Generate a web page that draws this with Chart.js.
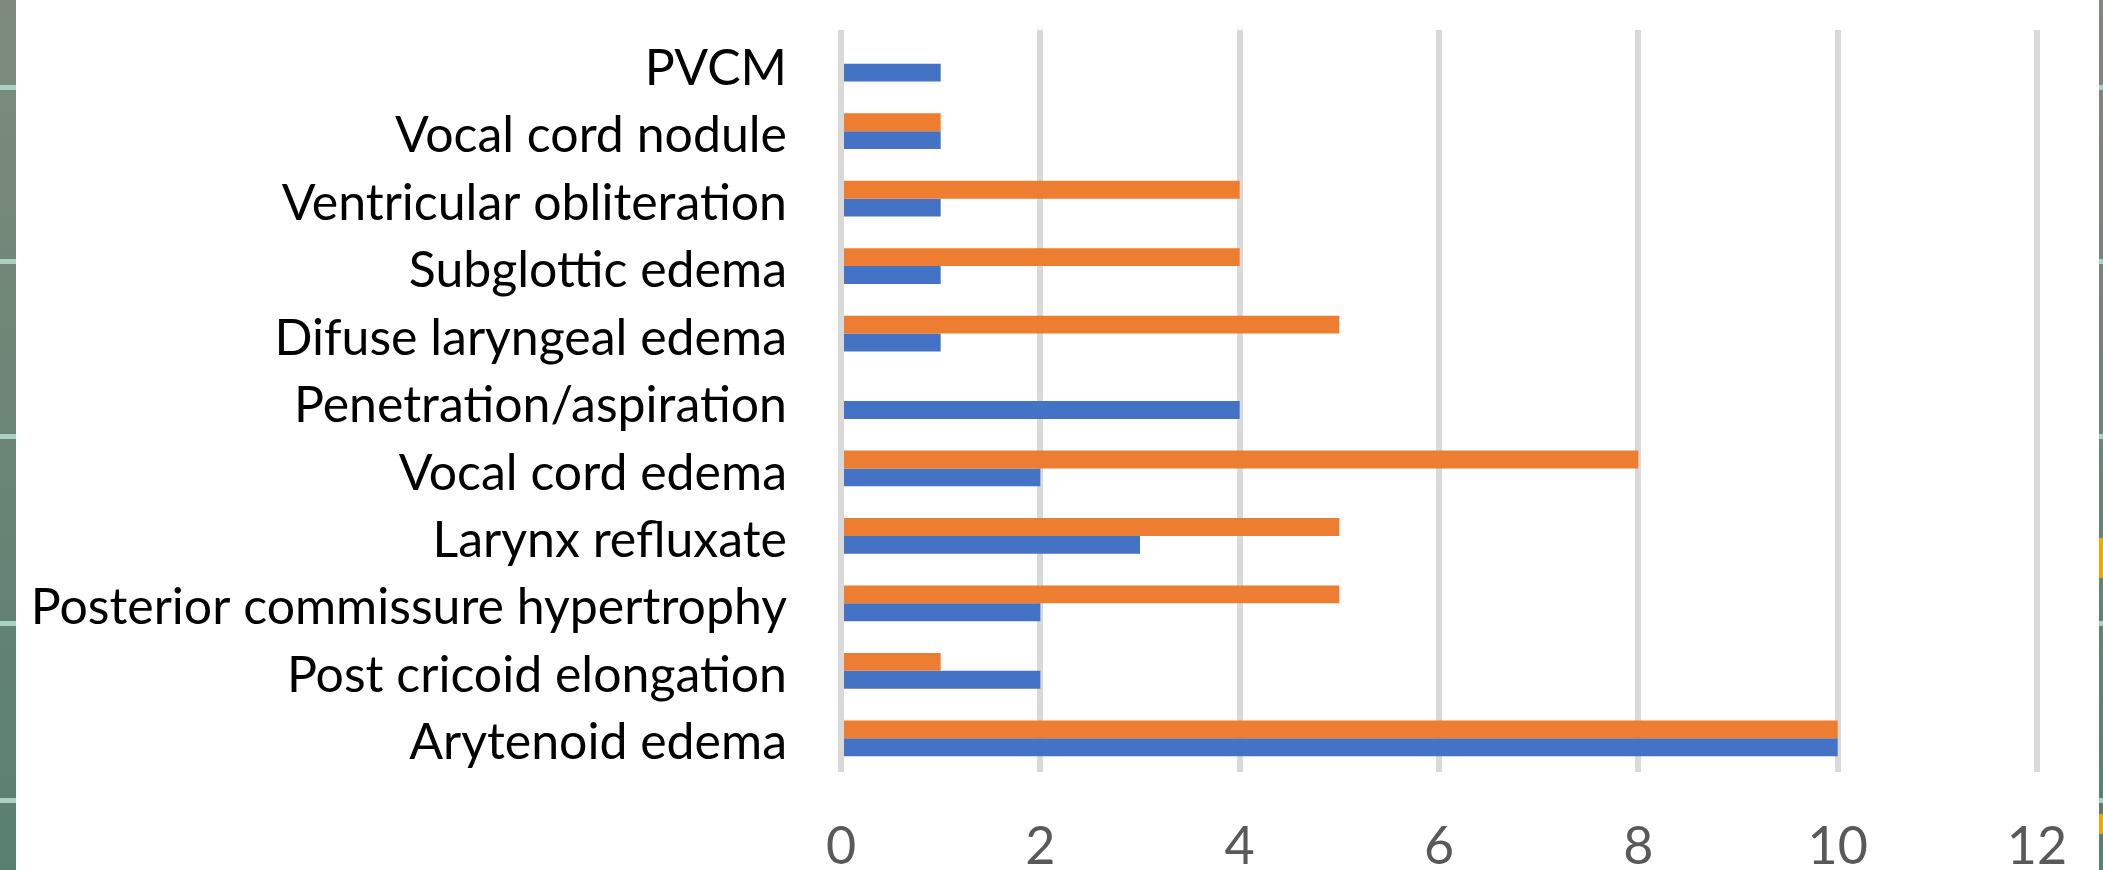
<!DOCTYPE html>
<html>
<head>
<meta charset="utf-8">
<script src="https://cdn.jsdelivr.net/npm/chart.js@4.4.1/dist/chart.umd.min.js"></script>
<style>
  body { margin: 0; background: #fff; overflow: hidden; }
  #wrap { position: relative; width: 2103px; height: 870px; }
  .strip { position: absolute; top: 0; height: 870px; background: linear-gradient(#7e8b7c, #587f70); }
  #leftStrip { left: 0; width: 16px; }
  #rightStrip { left: 2099px; width: 4px; }
  .mark { position: absolute; left: 0; width: 100%; height: 5px; background: #a9d2c2; }
  .blip { position: absolute; left: 0; width: 100%; background: #f2a800; }
</style>
</head>
<body>
<div id="wrap">
  <canvas id="barChart" width="2103" height="870"></canvas>
  <div class="strip" id="leftStrip">
    <div class="mark" style="top:85px"></div>
    <div class="mark" style="top:259px"></div>
    <div class="mark" style="top:434px"></div>
    <div class="mark" style="top:621px"></div>
    <div class="mark" style="top:798px"></div>
  </div>
  <div class="strip" id="rightStrip">
    <div class="mark" style="top:85px"></div>
    <div class="mark" style="top:259px"></div>
    <div class="mark" style="top:434px"></div>
    <div class="blip" style="top:538px;height:40px"></div>
    <div class="mark" style="top:621px"></div>
    <div class="mark" style="top:798px"></div>
    <div class="blip" style="top:814px;height:20px"></div>
  </div>
</div>
<script>
// categories listed bottom to top, like the spreadsheet
const categories = [
    'Arytenoid edema',
    'Post cricoid elongation',
    'Posterior commissure hypertrophy',
    'Larynx refluxate',
    'Vocal cord edema',
    'Penetration/aspiration',
    'Difuse laryngeal edema',
    'Subglottic edema',
    'Ventricular obliteration',
    'Vocal cord nodule',
    'PVCM'
];
const blueValues = [10, 2, 2, 3, 2, 4, 1, 1, 1, 1, 1];
const orangeValues = [10, 1, 5, 5, 8, 0, 5, 4, 4, 1, 0];
const xTicks = [0, 2, 4, 6, 8, 10, 12];

const ctx = document.getElementById('barChart').getContext('2d');
const barChart = new Chart(ctx, {
    type: 'bar',
    data: {
        labels: categories,
        datasets: [
            {
                label: 'Series 2',
                data: orangeValues,
                backgroundColor: '#ED7D31',
                categoryPercentage: 0.53,
                barPercentage: 1.0
            },
            {
                label: 'Series 1',
                data: blueValues,
                backgroundColor: '#4472C4',
                categoryPercentage: 0.53,
                barPercentage: 1.0
            }
        ]
    },
    options: {
        indexAxis: 'y',
        responsive: false,
        animation: false,
        layout: {
            padding: { top: 27, right: 66, bottom: 0, left: 0 }
        },
        plugins: {
            legend: { display: false },
            tooltip: { enabled: false }
        },
        scales: {
            x: {
                min: 0,
                max: 12,
                afterBuildTicks: (scale) => {
                    scale.ticks = xTicks.map(v => ({ value: v }));
                },
                afterFit: (scale) => { scale.height = 98; },
                // tick marks hidden, their length just pushes the labels down
                grid: { color: '#d9d9d9', lineWidth: 6, drawTicks: true, tickLength: 49, tickColor: 'transparent' },
                border: { display: false },
                ticks: {
                    padding: 0,
                    color: '#595959',
                    font: { family: 'Lato', size: 52, lineHeight: 1 },
                    maxRotation: 0
                }
            },
            y: {
                reverse: true,
                grid: { display: false, drawTicks: true, tickLength: 54 },
                border: { display: false },
                afterFit: (scale) => { scale.width = 841; },
                ticks: {
                    padding: 0,
                    labelOffset: 5,
                    color: '#000',
                    font: { family: 'Lato', size: 50 },
                    autoSkip: false
                }
            }
        }
    }
});
</script>
</body>
</html>
